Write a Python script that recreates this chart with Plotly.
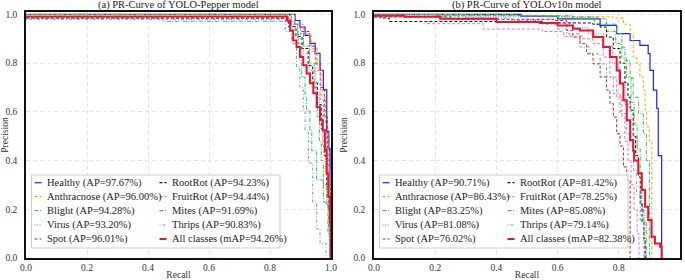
import plotly.graph_objects as go

# ---------------- data ----------------
CLASSES = ["Healthy", "Anthracnose", "Blight", "Virus", "Spot",
           "RootRot", "FruitRot", "Mites", "Thrips"]
AP_A = [97.67, 96.00, 94.28, 93.20, 96.01, 94.23, 94.44, 91.69, 90.83]
MAP_A = 94.26
AP_B = [90.71, 86.43, 83.25, 81.08, 76.02, 81.42, 78.25, 85.08, 79.14]
MAP_B = 82.38
TITLES = ["(a) PR-Curve of YOLO-Pepper model", "(b) PR-Curve of YOLOv10n model"]
TICKS = [0.0, 0.2, 0.4, 0.6, 0.8, 1.0]

# ---- (a) YOLO-Pepper ----
A_HEALTHY_R = [0, 0.868, 0.882, 0.898, 0.915, 0.931, 0.948, 0.964, 0.975, 0.986, 0.993, 0.997, 1.0]
A_HEALTHY_P = [1.0, 1.0, 0.975, 0.948, 0.914, 0.881, 0.84, 0.77, 0.69, 0.52, 0.45, 0.37, 0.0]
A_ANTH_R = [0, 0.86, 0.88, 0.91, 0.935, 0.955, 0.97, 0.982, 0.99, 0.995, 0.998, 1.0]
A_ANTH_P = [1.0, 1.0, 0.96, 0.92, 0.86, 0.78, 0.66, 0.55, 0.38, 0.30, 0.15, 0.0]
A_BLIGHT_R = [0, 0.85, 0.87, 0.89, 0.91, 0.93, 0.945, 0.955, 0.962, 0.968, 0.975, 0.985, 0.992, 0.997]
A_BLIGHT_P = [1.0, 0.995, 0.96, 0.92, 0.87, 0.80, 0.70, 0.58, 0.48, 0.40, 0.30, 0.22, 0.12, 0.0]
A_VIRUS_R = [0, 0.85, 0.87, 0.89, 0.91, 0.93, 0.95, 0.962, 0.972, 0.982, 0.99, 0.996]
A_VIRUS_P = [0.985, 0.985, 0.95, 0.90, 0.84, 0.77, 0.68, 0.58, 0.46, 0.35, 0.20, 0.0]
A_SPOT_R = [0, 0.84, 0.87, 0.90, 0.93, 0.95, 0.965, 0.978, 0.988, 0.994, 0.998, 1.0]
A_SPOT_P = [0.99, 0.99, 0.96, 0.93, 0.87, 0.80, 0.70, 0.58, 0.45, 0.30, 0.10, 0.0]
A_ROOT_R = [0, 0.84, 0.86, 0.885, 0.905, 0.925, 0.94, 0.955, 0.968, 0.978, 0.986, 0.993, 0.997]
A_ROOT_P = [0.985, 0.985, 0.95, 0.91, 0.86, 0.79, 0.72, 0.63, 0.53, 0.42, 0.30, 0.20, 0.0]
A_FRUIT_R = [0, 0.85, 0.87, 0.90, 0.93, 0.95, 0.965, 0.975, 0.985, 0.993, 0.998]
A_FRUIT_P = [0.99, 0.99, 0.96, 0.92, 0.85, 0.77, 0.65, 0.52, 0.38, 0.20, 0.0]
A_MITES_R = [0, 0.45, 0.86, 0.882, 0.893, 0.904, 0.915, 0.92, 0.931, 0.937, 0.953, 0.975, 0.99, 0.995]
A_MITES_P = [0.985, 0.972, 0.972, 0.934, 0.88, 0.743, 0.66, 0.607, 0.525, 0.44, 0.32, 0.23, 0.10, 0.0]
A_THRIPS_R = [0, 0.82, 0.85, 0.871, 0.887, 0.898, 0.909, 0.915, 0.926, 0.94, 0.953, 0.964, 0.984]
A_THRIPS_P = [0.98, 0.98, 0.93, 0.88, 0.784, 0.70, 0.607, 0.525, 0.39, 0.23, 0.12, 0.06, 0.0]
A_ALL_R = [0, 0.84, 0.855, 0.866, 0.876, 0.887, 0.898, 0.909, 0.92, 0.931, 0.942, 0.953,
           0.964, 0.973, 0.98, 0.986, 0.991, 0.997, 1.0]
A_ALL_P = [0.992, 0.992, 0.975, 0.934, 0.893, 0.866, 0.825, 0.791, 0.758, 0.717, 0.676, 0.62,
           0.566, 0.525, 0.443, 0.348, 0.251, 0.143, 0.0]

# ---- (b) YOLOv10n ----
B_HEALTHY_R = [0, 0.48, 0.48, 0.60, 0.60, 0.70, 0.739, 0.793, 0.837, 0.869, 0.896, 0.902,
               0.913, 0.924, 0.929, 0.94, 0.94]
B_HEALTHY_P = [1.0, 1.0, 0.993, 0.993, 0.982, 0.982, 0.955, 0.921, 0.893, 0.873, 0.839, 0.77,
               0.689, 0.614, 0.42, 0.42, 0.0]
B_ANTH_R = [0, 0.30, 0.60, 0.78, 0.815, 0.837, 0.847, 0.858, 0.869, 0.88, 0.886, 0.891, 0.90, 0.908, 0.908]
B_ANTH_P = [1.0, 0.995, 0.99, 0.985, 0.96, 0.92, 0.825, 0.80, 0.743, 0.689, 0.607, 0.538, 0.48, 0.40, 0.0]
B_BLIGHT_R = [0, 0.47, 0.65, 0.72, 0.76, 0.79, 0.81, 0.825, 0.84, 0.85, 0.86, 0.87, 0.875, 0.88, 0.89, 0.89]
B_BLIGHT_P = [1.0, 0.995, 0.985, 0.96, 0.93, 0.88, 0.82, 0.74, 0.64, 0.55, 0.45, 0.35, 0.22, 0.15, 0.06, 0.0]
B_VIRUS_R = [0, 0.30, 0.50, 0.60, 0.65, 0.70, 0.75, 0.78, 0.80, 0.82, 0.84, 0.86, 0.875, 0.885, 0.886]
B_VIRUS_P = [0.995, 0.99, 0.98, 0.965, 0.945, 0.92, 0.87, 0.80, 0.72, 0.63, 0.50, 0.35, 0.20, 0.06, 0.0]
B_SPOT_R = [0, 0.25, 0.586, 0.63, 0.65, 0.673, 0.695, 0.716, 0.739, 0.76, 0.771, 0.782, 0.793,
            0.804, 0.815, 0.826, 0.837, 0.837]
B_SPOT_P = [0.99, 0.98, 0.975, 0.934, 0.907, 0.88, 0.838, 0.797, 0.743, 0.689, 0.634, 0.579, 0.51,
            0.46, 0.374, 0.32, 0.30, 0.0]
B_ROOT_R = [0, 0.02, 0.05, 0.55, 0.70, 0.715, 0.739, 0.76, 0.782, 0.804, 0.82, 0.83, 0.837, 0.847,
            0.855, 0.864, 0.87, 0.876, 0.882, 0.886]
B_ROOT_P = [0.99, 0.985, 0.971, 0.965, 0.965, 0.96, 0.948, 0.907, 0.86, 0.80, 0.72, 0.66, 0.607, 0.50,
            0.42, 0.333, 0.225, 0.15, 0.08, 0.0]
B_FRUIT_R = [0, 0.167, 0.357, 0.55, 0.62, 0.68, 0.716, 0.749, 0.771, 0.793, 0.81, 0.82, 0.83, 0.84,
             0.85, 0.86, 0.866]
B_FRUIT_P = [0.99, 0.962, 0.94, 0.93, 0.91, 0.90, 0.88, 0.825, 0.743, 0.66, 0.58, 0.48, 0.40, 0.30,
             0.20, 0.10, 0.0]
B_MITES_R = [0, 0.20, 0.56, 0.73, 0.76, 0.793, 0.81, 0.82, 0.837, 0.847, 0.864, 0.88, 0.89, 0.90, 0.90]
B_MITES_P = [1.0, 0.995, 0.99, 0.982, 0.96, 0.921, 0.866, 0.81, 0.74, 0.66, 0.593, 0.51, 0.40, 0.27, 0.0]
B_THRIPS_R = [0, 0.30, 0.45, 0.55, 0.60, 0.63, 0.673, 0.706, 0.739, 0.76, 0.782, 0.804, 0.826,
              0.837, 0.848, 0.858, 0.87, 0.882, 0.882]
B_THRIPS_P = [0.99, 0.985, 0.975, 0.96, 0.94, 0.92, 0.866, 0.838, 0.797, 0.743, 0.675, 0.593, 0.51,
              0.46, 0.36, 0.26, 0.15, 0.06, 0.0]
B_ALL_R = [0, 0.10, 0.216, 0.40, 0.542, 0.60, 0.65, 0.673, 0.716, 0.749, 0.771, 0.793, 0.804, 0.815,
           0.826, 0.837, 0.847, 0.85, 0.864, 0.875, 0.886, 0.896, 0.907, 0.918, 0.935, 0.94, 0.94]
B_ALL_P = [0.995, 0.99, 0.982, 0.969, 0.965, 0.955, 0.941, 0.934, 0.907, 0.866, 0.825, 0.77, 0.716,
           0.648, 0.566, 0.484, 0.44, 0.40, 0.348, 0.279, 0.21, 0.156, 0.087, 0.06, 0.046, 0.046, 0.0]

CURVES_A = [(A_HEALTHY_R, A_HEALTHY_P), (A_ANTH_R, A_ANTH_P), (A_BLIGHT_R, A_BLIGHT_P),
            (A_VIRUS_R, A_VIRUS_P), (A_SPOT_R, A_SPOT_P), (A_ROOT_R, A_ROOT_P),
            (A_FRUIT_R, A_FRUIT_P), (A_MITES_R, A_MITES_P), (A_THRIPS_R, A_THRIPS_P)]
CURVES_B = [(B_HEALTHY_R, B_HEALTHY_P), (B_ANTH_R, B_ANTH_P), (B_BLIGHT_R, B_BLIGHT_P),
            (B_VIRUS_R, B_VIRUS_P), (B_SPOT_R, B_SPOT_P), (B_ROOT_R, B_ROOT_P),
            (B_FRUIT_R, B_FRUIT_P), (B_MITES_R, B_MITES_P), (B_THRIPS_R, B_THRIPS_P)]

# ---------------- styles ----------------
COLORS = ["#1f1fff", "#ffa500", "#32cd32", "#ba55d3", "#a52a2a",
          "#111111", "#ff69b4", "#3cb371", "#5b9bd5"]
DASHES = ["solid", "3px,2px", "4px,1.5px,1px,1.5px", "1px,1.5px", "3px,2px",
          "3px,2px", "3px,2px", "4px,1.5px,1px,1.5px", "1px,2px,3px,2px"]
ALL_COLOR = "#e8142f"
SERIF = "Liberation Serif"

W, H = 685, 280
PLOT_TOP, PLOT_BOT = 12, 258
DOMAINS = [(26, 331), (374, 680)]

fig = go.Figure()

for k, (curves, aps, mAP, all_r, all_p) in enumerate(
        [(CURVES_A, AP_A, MAP_A, A_ALL_R, A_ALL_P), (CURVES_B, AP_B, MAP_B, B_ALL_R, B_ALL_P)]):
    xa = "x" if k == 0 else "x2"
    ya = "y" if k == 0 else "y2"
    for i, (r, p) in enumerate(curves):
        fig.add_trace(go.Scatter(
            x=r, y=p, mode="lines", line_shape="hv",
            name=f"{CLASSES[i]} (AP={aps[i]:.2f}%)",
            line=dict(color=COLORS[i], width=1.2 if i == 0 else 1.0, dash=DASHES[i]),
            xaxis=xa, yaxis=ya, showlegend=False))
    fig.add_trace(go.Scatter(
        x=all_r, y=all_p, mode="lines", line_shape="hv",
        name=f"All classes (mAP={mAP:.2f}%)",
        line=dict(color=ALL_COLOR, width=2.0),
        xaxis=xa, yaxis=ya, showlegend=False))

axis_common = dict(range=[0, 1], tickvals=TICKS, ticktext=[f"{t:.1f}" for t in TICKS],
                   showline=True, linecolor="#111", linewidth=1.5, mirror=True,
                   showgrid=True, gridcolor="#e2e2e2", griddash="4px,3px", gridwidth=0.8,
                   zeroline=False, ticks="", automargin=False,
                   tickfont=dict(family=SERIF, size=9.5, color="#333"))
ydom = [1 - PLOT_BOT / H, 1 - PLOT_TOP / H]
layout = dict(width=W, height=H, margin=dict(l=0, r=0, t=0, b=0, autoexpand=False),
              paper_bgcolor="white", plot_bgcolor="white", showlegend=False,
              font=dict(family=SERIF, color="#333"))
for k, (x0, x1) in enumerate(DOMAINS):
    sfx = "" if k == 0 else "2"
    layout["xaxis" + sfx] = dict(axis_common, domain=[x0 / W, x1 / W],
                                 anchor="y" + sfx, ticklabelstandoff=0,
                                 title=dict(text="Recall", standoff=0,
                                            font=dict(family=SERIF, size=9.5, color="#333")))
    layout["yaxis" + sfx] = dict(axis_common, range=[0, 1.01], domain=ydom,
                                 anchor="x" + sfx, ticklabelstandoff=5,
                                 title=dict(text="Precision", standoff=4,
                                            font=dict(family=SERIF, size=9.5, color="#333")))
fig.update_layout(**layout)

# titles
for k, (x0, x1) in enumerate(DOMAINS):
    fig.add_annotation(text=TITLES[k], xref="paper", yref="paper",
                       x=(x0 + x1) / 2 / W, y=1 - 5 / H, xanchor="center", yanchor="middle",
                       showarrow=False, font=dict(family=SERIF, size=10.5, color="#222"))

# legend boxes (drawn manually, two columns)
ROW_PX = [182.7, 196.7, 210.7, 225.0, 239.0]
for k, (x0, x1) in enumerate(DOMAINS):
    sfx = "" if k == 0 else "2"
    xr, yr = "x" + sfx + " domain", "y" + sfx + " domain"
    pw = x1 - x0
    ph = PLOT_BOT - PLOT_TOP
    fig.add_shape(type="rect", xref=xr, yref=yr,
                  x0=5.5 / pw, x1=254 / pw, y0=(PLOT_BOT - 248) / ph, y1=(PLOT_BOT - 175) / ph,
                  line=dict(color="#cccccc", width=1), fillcolor="rgba(255,255,255,0.85)",
                  layer="above")
    aps = AP_A if k == 0 else AP_B
    mAP = MAP_A if k == 0 else MAP_B
    entries = [(f"{CLASSES[i]} (AP={aps[i]:.2f}%)", COLORS[i], DASHES[i], 1.2) for i in range(9)]
    entries.append((f"All classes (mAP={mAP:.2f}%)", ALL_COLOR, "solid", 2.0))
    for j, (label, col, dash, lw) in enumerate(entries):
        c, rrow = divmod(j, 5)
        yy = (PLOT_BOT - ROW_PX[rrow]) / ph
        sx = 8.5 if c == 0 else 133.5
        fig.add_shape(type="line", xref=xr, yref=yr, x0=sx / pw, x1=(sx + 7) / pw, y0=yy, y1=yy,
                      line=dict(color=col, width=lw, dash=dash), layer="above")
        fig.add_annotation(text=label, xref=xr, yref=yr, x=(sx + 10.5) / pw, y=yy,
                           xanchor="left", yanchor="middle", showarrow=False,
                           font=dict(family=SERIF, size=10.5, color="#222"))

fig.write_html("out.html", config={"displayModeBar": False},
               post_script="document.body.style.margin='0';document.body.style.overflow='hidden';")
